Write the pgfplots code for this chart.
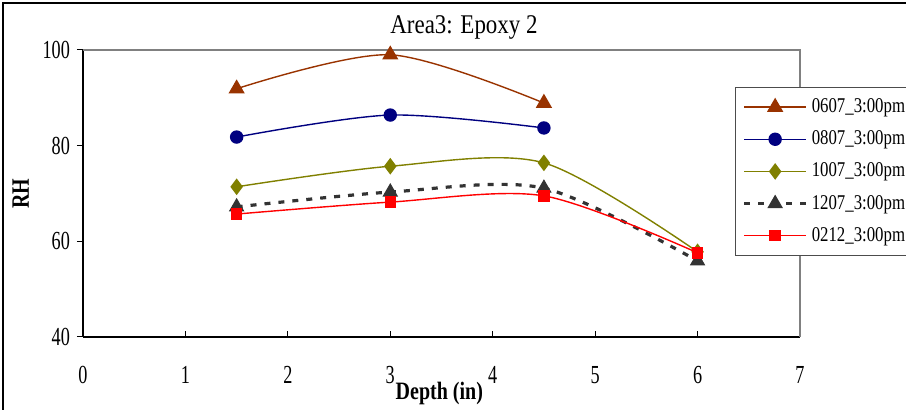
\documentclass[border=0pt]{standalone}
\usepackage{fontspec}
\setmainfont{Liberation Serif}
\newfontfamily\tickfont{Liberation Serif}[FakeStretch=0.7]
\newfontfamily\legfont{Liberation Serif}[FakeStretch=0.8]
\newfontfamily\titfont{Liberation Serif}[FakeStretch=0.85]
\newfontfamily\labfont{Liberation Serif}[FakeStretch=0.8]
\usepackage{pgfplots}
\pgfplotsset{compat=1.18}
\definecolor{cA}{HTML}{993300}
\definecolor{cB}{HTML}{000080}
\definecolor{cC}{HTML}{808000}
\definecolor{cD}{HTML}{333333}
\definecolor{cE}{HTML}{FF0000}
\begin{document}
\begin{tikzpicture}
\useasboundingbox (0,0) rectangle (453pt,205pt);
\clip (0,0) rectangle (453pt,205pt);
\draw[line width=1pt] (1.5pt,-5pt) rectangle (470pt,203.5pt);
\begin{axis}[
  at={(41.5pt,36.5pt)}, anchor=south west,
  scale only axis, width=358.5pt, height=143.5pt,
  xmin=0, xmax=7, ymin=40, ymax=100,
  xtick={0,1,...,7}, ytick={40,60,80,100},
  axis x line*=bottom, axis y line*=left,
  axis line style={black, line width=0.6pt, -},
  x tick style={black, line width=0.5pt}, y tick style={black, line width=0.5pt},
  xtick align=inside, ytick align=outside,
  major tick length=3pt,
  /pgf/number format/assume math mode=true,
  tick label style={font=\tickfont\fontsize{13}{13}\selectfont},
  xticklabel style={yshift=-11pt},
  xlabel={Depth (in)}, ylabel={RH},
  xlabel style={font=\labfont\bfseries\fontsize{12.5}{12.5}\selectfont, at={(0.497,0)}, anchor=center, yshift=-28pt},
  ylabel style={font=\labfont\bfseries\fontsize{12.5}{12.5}\selectfont},
  legend style={at={(0.9093,0.871)}, anchor=north west, draw=black!70, line width=0.6pt,
    font=\legfont\fontsize{10.5}{11}\selectfont, row sep=3.6pt, inner sep=3.5pt},
  legend cell align=left,
  legend image code/.code={\draw[mark repeat=2,mark phase=2,#1] plot coordinates {(0pt,0pt) (15.5pt,0pt) (31pt,0pt)};},
  every axis plot/.append style={smooth, tension=0.5, line width=0.7pt},
  clip=false,
]
\draw[gray, line width=0.6pt] (rel axis cs:0,1) -- (rel axis cs:1,1) -- (rel axis cs:1,0);
\addplot[cA, mark=triangle*, mark size=4pt] coordinates {(1.5,91.9) (3,99.0) (4.5,88.9)};
\addlegendentry{0607\_3:00pm\hspace{8pt}}
\addplot[cB, mark=*, mark size=3pt] coordinates {(1.5,81.8) (3,86.4) (4.5,83.7)};
\addlegendentry{0807\_3:00pm\hspace{8pt}}
\addplot[cC, mark=diamond*, mark size=3.6pt] coordinates {(1.5,71.4) (3,75.7) (4.5,76.4) (6,57.8)};
\addlegendentry{1007\_3:00pm\hspace{8pt}}
\addplot[cD, line width=1.6pt, dash pattern=on 3pt off 4pt, mark=triangle*, mark size=4pt, mark options={solid, line width=0.5pt}] coordinates {(1.5,67.2) (3,70.3) (4.5,71.1) (6,55.9)};
\addlegendentry{1207\_3:00pm\hspace{8pt}}
\addplot[cE, mark=square*, mark size=2.5pt] coordinates {(1.5,65.7) (3,68.2) (4.5,69.5) (6,57.6)};
\addlegendentry{0212\_3:00pm\hspace{8pt}}
\end{axis}
\node[font=\titfont\fontsize{13.5}{13.5}\selectfont] at (232pt,191.5pt) {Area3: Epoxy 2};
\end{tikzpicture}
\end{document}
